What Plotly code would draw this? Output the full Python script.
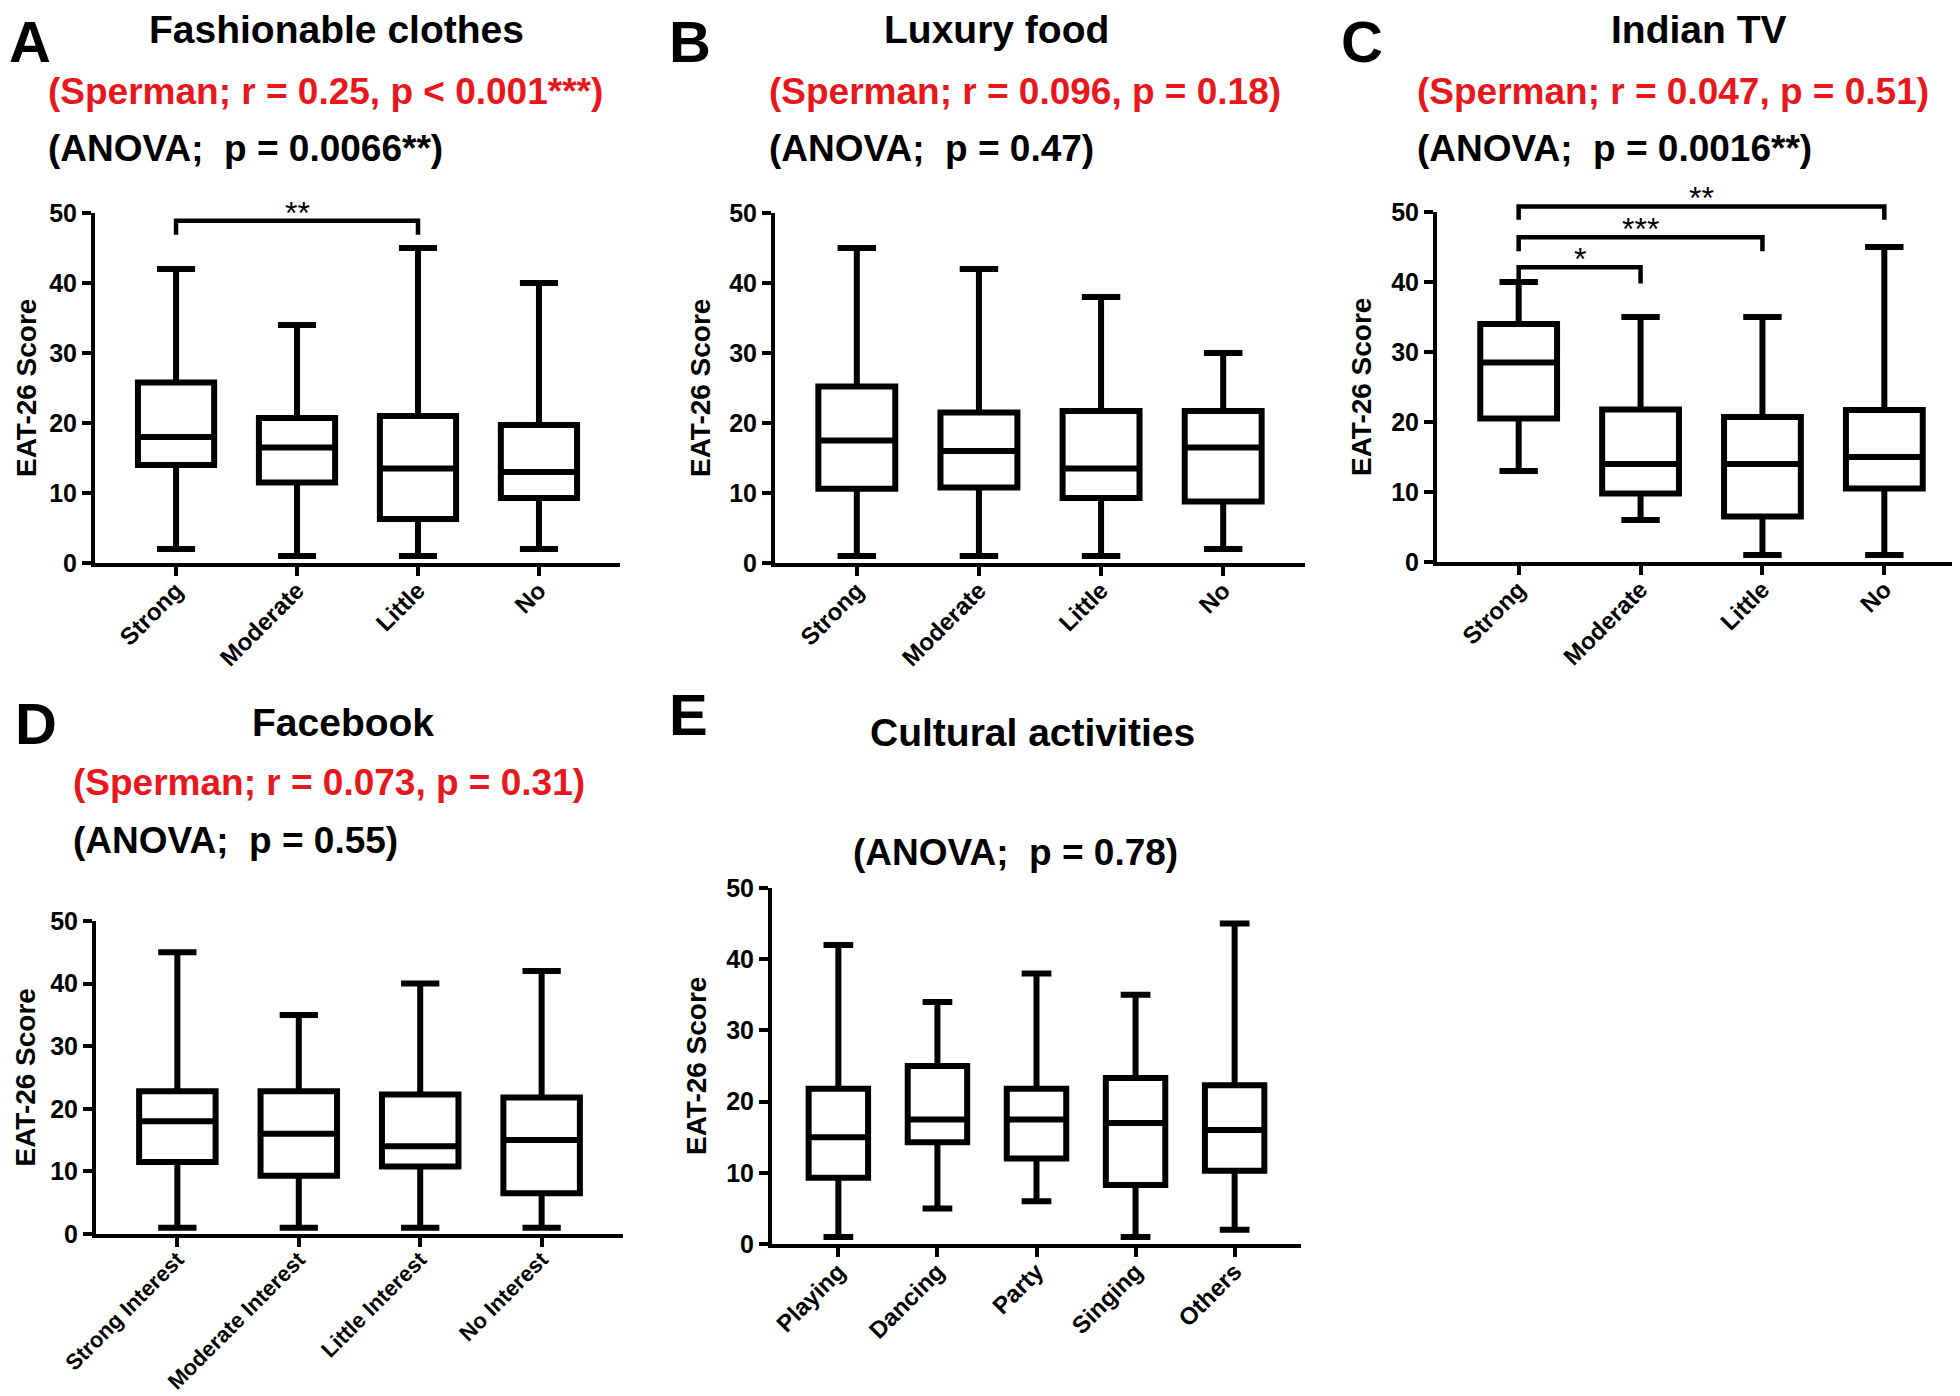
import plotly.graph_objects as go

W, H = 1960, 1396
FONT = "Liberation Sans, Arial, sans-serif"
RED = "#e8171c"

# ---- data ----
levels = ["Strong", "Moderate", "Little", "No"]
fb_levels = ["Strong Interest", "Moderate Interest", "Little Interest", "No Interest"]
cultural = ["Playing", "Dancing", "Party", "Singing", "Others"]

# A  fashionable clothes
fash_low = [2, 1, 1, 2]
fash_q1 = [14, 11.5, 6.3, 9.3]
fash_med = [18, 16.5, 13.5, 13]
fash_q3 = [25.8, 20.7, 21, 19.7]
fash_high = [42, 34, 45, 40]

# B  luxury food
food_low = [1, 1, 1, 2]
food_q1 = [10.6, 10.8, 9.3, 8.8]
food_med = [17.5, 16, 13.5, 16.5]
food_q3 = [25.2, 21.5, 21.7, 21.7]
food_high = [45, 42, 38, 30]

# C  indian tv
tv_low = [13, 6, 1, 1]
tv_q1 = [20.5, 9.8, 6.5, 10.5]
tv_med = [28.5, 14, 14, 15]
tv_q3 = [34, 21.8, 20.7, 21.7]
tv_high = [40, 35, 35, 45]

# D  facebook
fb_low = [1, 1, 1, 1]
fb_q1 = [11.5, 9.3, 10.8, 6.5]
fb_med = [18, 16, 14, 15]
fb_q3 = [22.8, 22.8, 22.3, 21.8]
fb_high = [45, 35, 40, 42]

# E  cultural activities
cult_low = [1, 5, 6, 1, 2]
cult_q1 = [9.3, 14.3, 12, 8.3, 10.3]
cult_med = [15, 17.5, 17.5, 17, 16]
cult_q3 = [21.8, 25, 21.8, 23.3, 22.3]
cult_high = [42, 34, 38, 35, 45]

# significance brackets: (from, to, top, drop, label)
fash_sig = [(0, 2, 48.9, 46.9, "**")]
tv_sig = [(0, 1, 42.1, 39.8, "*"), (0, 2, 46.4, 44.4, "***"), (0, 3, 50.8, 48.9, "**")]

titles = ["Fashionable clothes", "Luxury food", "Indian TV", "Facebook", "Cultural activities"]
spearman = ["(Sperman; r = 0.25, p < 0.001***)", "(Sperman; r = 0.096, p = 0.18)",
            "(Sperman; r = 0.047, p = 0.51)", "(Sperman; r = 0.073, p = 0.31)", None]
anova = ["(ANOVA;  p = 0.0066**)", "(ANOVA;  p = 0.47)", "(ANOVA;  p = 0.0016**)",
         "(ANOVA;  p = 0.55)", "(ANOVA;  p = 0.78)"]
letters = ["A", "B", "C", "D", "E"]

YMAX = 50


def fx(p):
    return p / W


def fy(p):
    return 1 - p / H


# panel geometry in pixels: plot box (left, right, top, bottom)
boxes = [(87, 612, 205, 555), (767, 1297, 205, 555), (1429, 1958, 204, 554),
         (88, 615, 913, 1226), (764, 1293, 880, 1236)]
letter_pos = [(0, 0), (660, 0), (1332, 0), (6, 682), (660, 673)]
title_pos = [(328, 22), (988, 22), (1691, 22), (335, 714), (1024, 724)]
spear_pos = [(38, 83), (759, 83), (1407, 83), (63, 774), None]
anova_pos = [(38, 140), (759, 140), (1407, 140), (63, 832), (1008, 844)]
ytitle_x = [18, 692, 1353, 17, 688]
xtick_size = [24, 24, 24, 22, 24]

panels = [
    (levels, fash_low, fash_q1, fash_med, fash_q3, fash_high, fash_sig),
    (levels, food_low, food_q1, food_med, food_q3, food_high, []),
    (levels, tv_low, tv_q1, tv_med, tv_q3, tv_high, tv_sig),
    (fb_levels, fb_low, fb_q1, fb_med, fb_q3, fb_high, []),
    (cultural, cult_low, cult_q1, cult_med, cult_q3, cult_high, []),
]

fig = go.Figure()
layout = dict(width=W, height=H, margin=dict(l=0, r=0, t=0, b=0),
              plot_bgcolor="white", paper_bgcolor="white", showlegend=False,
              font=dict(family=FONT, color="black"))
annotations = []
shapes = []

for i, (cats, lo, q1, med, q3, hi, sig) in enumerate(panels):
    n = i + 1
    xa = "x" if n == 1 else f"x{n}"
    ya = "y" if n == 1 else f"y{n}"
    fig.add_trace(go.Box(
        x=cats, q1=q1, median=med, q3=q3, lowerfence=lo, upperfence=hi,
        xaxis=xa, yaxis=ya, width=0.63 if len(cats) == 4 else 0.6,
        whiskerwidth=0.5, fillcolor="white",
        line=dict(color="black", width=6), boxpoints=False, hoverinfo="skip",
    ))
    l, r, t, b = boxes[i]
    layout[f"xaxis{'' if n == 1 else n}"] = dict(
        domain=[fx(l), fx(r)], anchor=ya, type="category", automargin=False,
        range=[-0.67, len(cats) - 1 + 0.67],
        showline=True, linewidth=4, linecolor="black", showgrid=False, zeroline=False,
        ticks="outside", ticklen=9, tickwidth=4, tickcolor="black", tickangle=-45,
        ticklabelstandoff=-9,
        tickfont=dict(family=FONT, size=xtick_size[i], weight="bold", color="black"),
    )
    layout[f"yaxis{'' if n == 1 else n}"] = dict(
        domain=[fy(b), fy(t)], anchor=xa, range=[0, YMAX], automargin=False,
        tickvals=[0, 10, 20, 30, 40, 50],
        showline=True, linewidth=4, linecolor="black", showgrid=False, zeroline=False,
        ticks="outside", ticklen=9, tickwidth=4, tickcolor="black",
        tickfont=dict(family=FONT, size=25, weight="bold", color="black"),
    )
    # y axis title
    annotations.append(dict(
        text="EAT-26 Score", textangle=-90, x=fx(ytitle_x[i]), y=fy((t + b) / 2),
        xref="paper", yref="paper", xanchor="center", yanchor="middle", showarrow=False,
        borderpad=0, font=dict(family=FONT, size=28, weight="bold", color="black")))
    # headings
    lx, ly = letter_pos[i]
    annotations.append(dict(
        text=letters[i], x=fx(lx), y=fy(ly), xref="paper", yref="paper",
        xanchor="left", yanchor="top", showarrow=False, borderpad=0,
        font=dict(family=FONT, size=58, weight="bold", color="black")))
    tx, ty = title_pos[i]
    annotations.append(dict(
        text=titles[i], x=fx(tx), y=fy(ty), xref="paper", yref="paper",
        xanchor="center", yanchor="middle", showarrow=False,
        font=dict(family=FONT, size=39, weight="bold", color="black")))
    if spearman[i]:
        sx, sy = spear_pos[i]
        annotations.append(dict(
            text=spearman[i], x=fx(sx), y=fy(sy), xref="paper", yref="paper",
            xanchor="left", yanchor="middle", showarrow=False,
            font=dict(family=FONT, size=37, weight="bold", color=RED)))
    ax_, ay_ = anova_pos[i]
    annotations.append(dict(
        text=anova[i], x=fx(ax_), y=fy(ay_), xref="paper", yref="paper",
        xanchor="left" if spearman[i] else "center", yanchor="middle", showarrow=False,
        font=dict(family=FONT, size=37, weight="bold", color="black")))
    # significance brackets
    for a, c, top, drop, lab in sig:
        shapes.append(dict(
            type="path", xref=xa, yref=f"{ya} domain",
            path=f"M {a},{drop / YMAX} L {a},{top / YMAX} L {c},{top / YMAX} L {c},{drop / YMAX}",
            line=dict(color="black", width=4.5)))
        annotations.append(dict(
            text=lab, x=(a + c) / 2, y=top / YMAX, xref=xa, yref=f"{ya} domain",
            xanchor="center", yanchor="bottom", yshift=-12, showarrow=False,
            font=dict(family=FONT, size=32, color="black")))

layout["annotations"] = annotations
layout["shapes"] = shapes
fig.update_layout(**layout)
fig.write_html("out.html")
